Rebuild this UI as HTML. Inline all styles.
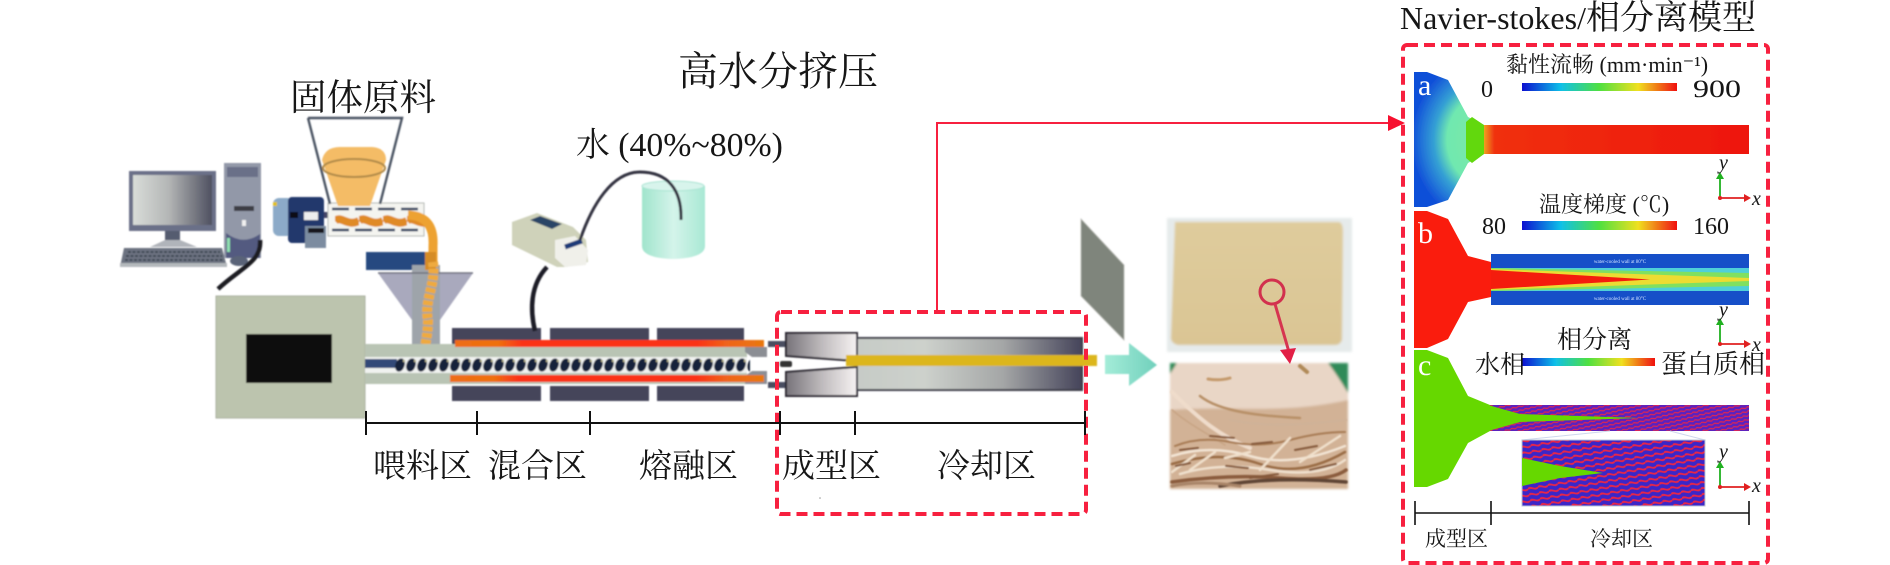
<!DOCTYPE html>
<html><head><meta charset="utf-8"><style>
html,body{margin:0;padding:0;background:#fff;width:1890px;height:565px;overflow:hidden}
svg{display:block}
text{font-family:"Liberation Serif","Noto Serif CJK SC",serif;fill:#161616}
</style></head><body>
<svg width="1890" height="565" viewBox="0 0 1890 565" xmlns="http://www.w3.org/2000/svg">
<defs>
<filter id="b" x="-5%" y="-5%" width="110%" height="110%"><feGaussianBlur stdDeviation="0.8"/></filter>
<filter id="b2" x="-5%" y="-5%" width="110%" height="110%"><feGaussianBlur stdDeviation="1.4"/></filter>
<filter id="t"><feGaussianBlur stdDeviation="0.3"/></filter>
<linearGradient id="mon" x1="0" x2="1"><stop offset="0" stop-color="#d8dcd8"/><stop offset=".45" stop-color="#b4b6b6"/><stop offset="1" stop-color="#4e5060"/></linearGradient>
<linearGradient id="die" x1="0" x2="1"><stop offset="0" stop-color="#77737a"/><stop offset=".55" stop-color="#c4c0c2"/><stop offset="1" stop-color="#f6f2f2"/></linearGradient>
<linearGradient id="cool" x1="0" x2="1"><stop offset="0" stop-color="#c6cbc6"/><stop offset=".3" stop-color="#cdd1cc"/><stop offset=".65" stop-color="#a4a6a6"/><stop offset="1" stop-color="#45445a"/></linearGradient>
<linearGradient id="rs" x1="0" x2="1"><stop offset="0" stop-color="#ee6c12"/><stop offset=".14" stop-color="#ef7010"/><stop offset=".22" stop-color="#fb3014"/><stop offset=".78" stop-color="#fb3014"/><stop offset=".88" stop-color="#f0641a"/><stop offset="1" stop-color="#e8780f"/></linearGradient>
<linearGradient id="cb" x1="0" x2="1"><stop offset="0" stop-color="#1010d0"/><stop offset=".25" stop-color="#10c0e8"/><stop offset=".5" stop-color="#50e040"/><stop offset=".75" stop-color="#f0e020"/><stop offset="1" stop-color="#f01010"/></linearGradient>
<linearGradient id="beak" x1="0" x2="1"><stop offset="0" stop-color="#a0e4cc"/><stop offset=".5" stop-color="#d4f4ea"/><stop offset="1" stop-color="#a8e8d4"/></linearGradient>
<linearGradient id="arr" x1="0" x2="1"><stop offset="0" stop-color="#a4ecd8"/><stop offset="1" stop-color="#70d0bc"/></linearGradient>
<linearGradient id="tofu" x1="0" y1="0" x2="0" y2="1"><stop offset="0" stop-color="#dfcc9c"/><stop offset="1" stop-color="#dac594"/></linearGradient>
<radialGradient id="ga" gradientUnits="userSpaceOnUse" cx="1490" cy="140" r="78" gradientTransform="translate(1490 140) scale(1 1.1) translate(-1490 -140)">
<stop offset="0" stop-color="#80e8a0"/><stop offset=".55" stop-color="#70e8b0"/><stop offset=".72" stop-color="#34a0d4"/><stop offset=".86" stop-color="#2478d8"/><stop offset="1" stop-color="#1050d8"/></radialGradient>
<linearGradient id="ch" x1="0" x2="1"><stop offset="0" stop-color="#f0a020"/><stop offset=".04" stop-color="#f03010"/><stop offset="1" stop-color="#ee1610"/></linearGradient>
<pattern id="screw" width="11" height="16" patternUnits="userSpaceOnUse" x="395" y="357">
<ellipse cx="5" cy="8" rx="4.6" ry="6.8" fill="#15203a" transform="rotate(18 5 8)"/><circle cx="9" cy="4" r="1.2" fill="#b8b48c"/></pattern>
<pattern id="feed" width="24" height="14" patternUnits="userSpaceOnUse" x="335" y="214">
<path d="M0 7 C6 1 12 13 24 7" stroke="#e08a28" stroke-width="8" fill="none"/></pattern>
<pattern id="noise" width="6" height="4" patternUnits="userSpaceOnUse" patternTransform="rotate(-14)">
<rect width="6" height="4" fill="#5a20c0"/><path d="M0 2C1.5 0 4 4 6 2" stroke="#e02850" stroke-width="1.2" fill="none"/></pattern>
<pattern id="noise2" width="10" height="6" patternUnits="userSpaceOnUse" patternTransform="rotate(-10)">
<rect width="10" height="6" fill="#3a28c8"/><path d="M0 3C3 0 6 6 10 3" stroke="#e82848" stroke-width="1.9" fill="none"/></pattern>
</defs>

<g filter="url(#b)">
<!-- computer -->
<rect x="129" y="171" width="87" height="60" fill="#6a7088"/><rect x="133" y="175" width="79" height="50" fill="url(#mon)"/>
<rect x="165" y="231" width="15" height="14" fill="#555c70"/><path d="M150 247 L165 240 H180 L197 247Z" fill="#b0b4ba"/>
<path d="M124 248H222L227 267H120Z" fill="#6c7280"/><rect x="120" y="263" width="107" height="4" fill="#b4b8bc"/>
<path d="M128 252H220M126 256H222M125 260H224" stroke="#333a4a" stroke-width="1.6" stroke-dasharray="3 1.5"/>
<rect x="224" y="163" width="37" height="95" fill="#9298a8"/><rect x="227" y="167" width="31" height="10" fill="#6a7088"/>
<rect x="234" y="206" width="20" height="5" fill="#3c3c44"/><rect x="242" y="220" width="4" height="6" fill="#f0f0f0"/>
<path d="M226 233Q243 246 260 234V258H226Z" fill="#525a80"/><rect x="227" y="238" width="3" height="14" fill="#90e0b0"/>
<ellipse cx="239" cy="261" rx="9" ry="5" fill="#5a6478"/>
<path d="M260 240C262 262 240 268 218 289" stroke="#1c1c24" stroke-width="4.5" fill="none"/>
<!-- motor -->
<rect x="273" y="198" width="20" height="38" rx="6" fill="#8caac8"/><rect x="288" y="197" width="36" height="46" rx="4" fill="#24386c"/>
<rect x="304" y="212" width="14" height="8" fill="#eee"/><rect x="290" y="212" width="8" height="6" fill="#0c0c14"/>
<rect x="305" y="226" width="21" height="22" fill="#7c8ca0"/><rect x="308" y="228" width="16" height="5" fill="#16161c"/>
<rect x="273" y="202" width="4" height="4" fill="#e0c020"/>
<rect x="324" y="212" width="6" height="6" fill="#446"/>
<!-- feeder -->
<rect x="328" y="203" width="96" height="33" fill="#f4f4f0" stroke="#b4b8b4" stroke-width="1"/>
<rect x="335" y="214" width="90" height="13" fill="url(#feed)"/>
<path d="M332 209H424M332 230H424" stroke="#2a3a5c" stroke-width="2.6" stroke-dasharray="17 6"/>
<!-- hopper -->
<path d="M322 160Q325 147 340 147H372Q386 148 386 160L370 206H338Z" fill="#f4bc66"/>
<path d="M308 118H402L380 204M330 204L308 118" fill="none" stroke="#4a5262" stroke-width="2.4"/>
<ellipse cx="354" cy="168" rx="31" ry="9" fill="none" stroke="#b08a48" stroke-width="2"/>
<!-- flow + funnel -->
<rect x="366" y="252" width="60" height="18" fill="#274a80"/>
<path d="M412 355V265H440V355Z" fill="#9ea4aa"/>
<path d="M378 273H412V320ZM473 273H440V320Z" fill="#a9a9bd"/>
<path d="M378 273H473" stroke="#70727e" stroke-width="1.5"/>
<path d="M408 215C428 216 434 228 433 246V262" stroke="#eda232" stroke-width="9" fill="none"/>
<rect x="425" y="252" width="11" height="18" fill="#d58c26"/>
<path d="M433 262C436 285 424 300 428 320C428 335 425 345 424 352" stroke="#eeaa40" stroke-width="10" stroke-dasharray="5 1.5" fill="none"/>
<!-- control box -->
<rect x="216" y="296" width="149" height="122" fill="#bcc4ae" stroke="#aab0a0"/>
<rect x="246" y="334" width="86" height="49" fill="#0c0c0c"/>
<!-- barrel -->
<rect x="365" y="344" width="382" height="40" fill="#b9c4b4"/>
<rect x="365" y="357" width="382" height="16" fill="#f0f2f0"/>
<rect x="365" y="359" width="32" height="9" fill="#334a78"/>
<rect x="395" y="357" width="355" height="16" fill="url(#screw)"/>
<!-- nozzle section -->
<path d="M745 347H767V357L752 357L745 352ZM745 384H767V371L752 371L745 376Z" fill="#8b8e94"/>
<rect x="768" y="341" width="18" height="6" fill="#4a4d60"/><rect x="768" y="382" width="18" height="6" fill="#4a4d60"/>
<rect x="780" y="361" width="12" height="6" rx="2" fill="#333"/>
<!-- heaters -->
<g fill="#44455a">
<rect x="452" y="328" width="89" height="16"/><rect x="550" y="328" width="99" height="16"/><rect x="657" y="328" width="87" height="16"/>
<rect x="452" y="386" width="89" height="15"/><rect x="550" y="386" width="99" height="15"/><rect x="657" y="386" width="87" height="15"/>
</g>
<rect x="455" y="340" width="309" height="7" fill="url(#rs)"/>
<rect x="450" y="375" width="314" height="7" fill="url(#rs)"/>
<!-- die -->
<path d="M786 333H857V361L786 356Z" fill="url(#die)" stroke="#2a2830" stroke-width="2"/>
<path d="M786 372L857 367V396H786Z" fill="url(#die)" stroke="#2a2830" stroke-width="2"/>
<!-- cooler -->
<rect x="857" y="338" width="225" height="52" fill="url(#cool)" stroke="#3c3c4a" stroke-width="2"/>
<rect x="846" y="355" width="251" height="11" fill="#dcb61c"/>
<!-- pump -->
<path d="M512 222L537 213L573 227L586 240L588 262L566 267L557 267L512 245Z" fill="#cfd2ba"/>
<path d="M530 220L540 216L562 224L552 229Z" fill="#2c4466"/>
<path d="M555 240L575 236L588 250L586 265L565 267L555 258Z" fill="#f0f0ea"/>
<path d="M565 247L582 241" stroke="#1e3a78" stroke-width="5"/>
<path d="M547 267C530 285 530 310 535 331" stroke="#1c1c26" stroke-width="4.5" fill="none"/>
<!-- beaker -->
<path d="M642 186V246Q642 258 673 259Q705 258 705 246V186Z" fill="url(#beak)"/>
<ellipse cx="673" cy="186" rx="31" ry="5" fill="#d8f4ec" stroke="#a8e4d2"/>
<path d="M580 240C592 205 612 172 640 172C668 172 682 190 681 220" stroke="#333040" stroke-width="3" fill="none"/>
<!-- gray plate + arrow -->
<path d="M1081 219L1124 265V340L1081 296Z" fill="#7f857b" stroke="#b8bab4" stroke-width=".8"/>
<path d="M1105 355H1129V343L1157 365L1129 386V374H1105Z" fill="url(#arr)"/>
</g>

<!-- photos -->
<g filter="url(#b2)">
<rect x="1167" y="218" width="185" height="134" fill="#e6ebeb"/>
<path d="M1175 222H1339Q1343 223 1343 232L1342 340Q1340 345 1335 345H1178Q1170 343 1171 336Z" fill="url(#tofu)"/>
<rect x="1170" y="363" width="178" height="126" fill="#e9d6c6"/>
<path d="M1328 363H1348V393Q1338 376 1328 363ZM1170 363H1177L1170 374Z" fill="#2e8a58"/>
<path d="M1170 410C1230 405 1280 415 1348 400V489H1170Z" fill="#d2b296"/>
</g>
<g filter="url(#b)" fill="none" stroke-linecap="round">
<path d="M1208 379Q1220 381 1230 378" stroke="#c49a6c" stroke-width="3"/>
<path d="M1300 366l7 6" stroke="#b08a58" stroke-width="4"/>
<path d="M1200 396C1220 412 1260 416 1300 418" stroke="#b89068" stroke-width="2.5"/>
<path d="M1172 392C1200 420 1220 436 1250 448" stroke="#efdccb" stroke-width="4"/>
<path d="M1172 410C1190 425 1205 432 1225 445" stroke="#c8a484" stroke-width="1.5"/>
<path d="M1230 420C1270 428 1310 424 1346 420" stroke="#cfb298" stroke-width="2"/>
<path d="M1175 446Q1200 436 1230 442T1290 440T1345 432" stroke="#a87c54" stroke-width="2"/>
<path d="M1172 456Q1210 444 1250 456T1345 446" stroke="#f2e4d4" stroke-width="2.5"/>
<path d="M1172 464Q1220 450 1260 464T1345 452" stroke="#9a6c44" stroke-width="2.5"/>
<path d="M1180 474Q1220 462 1270 470T1345 460" stroke="#efe0ce" stroke-width="2.5"/>
<path d="M1172 482Q1230 474 1280 478T1346 470" stroke="#8a5c3c" stroke-width="3.5"/>
<path d="M1190 470L1215 452M1260 470L1290 438M1300 462L1340 436M1225 458L1250 452M1172 472L1195 455" stroke="#f0e0cc" stroke-width="2.5"/>
<path d="M1180 450l18 -2M1210 436l24 2M1252 444l20 -2M1295 450l22 -4M1176 466l14 -3M1226 466l22 2M1310 470l26 -6M1250 478l28 -4" stroke="#84583a" stroke-width="2"/>
<path d="M1220 486Q1270 476 1346 482" stroke="#5e4436" stroke-width="3.5"/>
<path d="M1172 486Q1200 480 1240 486" stroke="#a88468" stroke-width="3"/>
</g>
<circle cx="1272" cy="292" r="12" fill="none" stroke="#d2304e" stroke-width="3"/>
<path d="M1275 304L1289 352" stroke="#d63450" stroke-width="3"/>
<path d="M1280 350L1296 348L1290 364Z" fill="#e21f46"/>

<!-- connectors -->
<g fill="none" stroke="#f7203f">
<rect x="777" y="312" width="309" height="202" rx="4" stroke-width="4" stroke-dasharray="11 6"/>
<rect x="1403" y="45" width="365" height="518" rx="4" stroke-width="4" stroke-dasharray="11 6"/>
<path d="M937 312V123H1390" stroke-width="2"/>
</g>
<path d="M1388 115L1405 123L1388 131Z" fill="#f7102f"/>
<!-- brackets -->
<g stroke="#111" stroke-width="2" fill="none">
<path d="M366 423H1085M366 411V435M477 411V435M590 411V435M780 411V435M855 411V435M1085 411V435"/>
<path d="M1415 513H1749M1415 501V525M1491 501V525M1749 501V525" stroke-width="1.6"/>
</g>

<!-- panel a -->
<g filter="url(#t)">
<path d="M1414 72H1427L1448 80L1468 117L1484 125V154L1468 163L1448 200L1427 207H1414Z" fill="url(#ga)"/>
<path d="M1466 122L1472 117L1484 125V154L1472 163L1466 158Z" fill="#62d80c"/>
<rect x="1484" y="125" width="265" height="29" fill="url(#ch)"/>
<!-- panel b -->
<path d="M1414 211H1427L1448 219L1468 256L1491 262V297L1468 302L1448 339L1427 348H1414Z" fill="#fa1a08"/>
<rect x="1491" y="254" width="258" height="51" fill="#1450c8"/>
<rect x="1491" y="268" width="258" height="23" fill="#50d0d8"/>
<path d="M1491 268L1749 273V286L1491 291Z" fill="#80e060"/>
<path d="M1491 269L1749 278V281L1491 290Z" fill="#ecdc30"/>
<path d="M1491 270L1650 279.5L1491 289Z" fill="#f41c10"/>
<!-- panel c -->
<path d="M1414 350H1427L1448 358L1468 396L1490 405V431L1468 443L1448 479L1427 487H1414Z" fill="#66d805"/>
<rect x="1490" y="405" width="259" height="26" fill="url(#noise)"/>
<path d="M1488 405L1520 414L1639 418L1520 422L1488 431Z" fill="#66d805"/>
<path d="M1610 431L1522 440M1670 431L1705 440" stroke="#cfd8ee" stroke-width="1"/>
<rect x="1522" y="440" width="183" height="66" fill="url(#noise2)" stroke="#b8c4d8" stroke-width="1"/>
<path d="M1522 458L1560 466L1603 473L1560 478L1522 486Z" fill="#66d805"/>
<!-- colorbars -->
<rect x="1522" y="83" width="155" height="8" fill="url(#cb)"/>
<rect x="1522" y="221" width="155" height="9" fill="url(#cb)"/>
<rect x="1522" y="358" width="133" height="8" fill="url(#cb)"/>
</g>
<text x="1620" y="263" font-size="5" style="fill:#cfe0ff" text-anchor="middle" font-family="Liberation Sans">water-cooled wall at 80°C</text>
<text x="1620" y="300" font-size="5" style="fill:#cfe0ff" text-anchor="middle" font-family="Liberation Sans">water-cooled wall at 80°C</text>

<!-- axes -->
<g fill="none" stroke-width="1.8">
<path d="M1720 198V177" stroke="#20b020"/><path d="M1720 198H1746" stroke="#e02020"/>
<path d="M1720 344V323" stroke="#20b020"/><path d="M1720 344H1746" stroke="#e02020"/>
<path d="M1720 487V466" stroke="#20b020"/><path d="M1720 487H1746" stroke="#e02020"/>
</g>
<g fill="#20b020"><path d="M1716 179L1720 172L1724 179Z"/><path d="M1716 325L1720 318L1724 325Z"/><path d="M1716 468L1720 461L1724 468Z"/></g>
<g fill="#e02020"><path d="M1744 194L1751 198L1744 202Z"/><path d="M1744 340L1751 344L1744 348Z"/><path d="M1744 483L1751 487L1744 491Z"/></g>
<circle cx="1720" cy="198" r="2" fill="#e02020"/><circle cx="1720" cy="344" r="2" fill="#e02020"/><circle cx="1720" cy="487" r="2" fill="#e02020"/>
<g font-size="20" font-style="italic">
<text x="1719" y="169">y</text><text x="1752" y="205">x</text>
<text x="1719" y="316">y</text><text x="1752" y="351">x</text>
<text x="1719" y="458">y</text><text x="1752" y="492">x</text>
</g>
<circle cx="820" cy="498" r="0.8" fill="#999"/>

<!-- text -->
<g filter="url(#t)">
<text x="290" y="110" font-size="36.5">固体原料</text>
<text x="678" y="85" font-size="40">高水分挤压</text>
<text x="576" y="156" font-size="33.8">水 (40%~80%)</text>
<text x="373" y="477" font-size="33">喂料区</text>
<text x="488" y="477" font-size="33">混合区</text>
<text x="639" y="477" font-size="33">熔融区</text>
<text x="782" y="477" font-size="33">成型区</text>
<text x="937" y="477" font-size="33">冷却区</text>
<text x="1400" y="29" font-size="32">Navier-stokes/<tspan font-size="34">相分离模型</tspan></text>
<text x="1506" y="72" font-size="22">黏性流畅 (mm·min⁻¹)</text>
<text x="1481" y="97" font-size="24">0</text>
<text x="1693" y="97" font-size="25" textLength="48" lengthAdjust="spacingAndGlyphs">900</text>
<text x="1539" y="212" font-size="22">温度梯度 (℃)</text>
<text x="1482" y="234" font-size="24">80</text>
<text x="1693" y="234" font-size="24">160</text>
<text x="1557" y="348" font-size="25">相分离</text>
<text x="1475" y="373" font-size="25">水相</text>
<text x="1661" y="373" font-size="26">蛋白质相</text>
<text x="1425" y="546" font-size="21">成型区</text>
<text x="1590" y="546" font-size="21">冷却区</text>
<text x="1418" y="95" font-size="30" style="fill:#fff">a</text>
<text x="1418" y="243" font-size="30" style="fill:#fff">b</text>
<text x="1418" y="375" font-size="30" style="fill:#fff">c</text>
</g>
</svg>
</body></html>
